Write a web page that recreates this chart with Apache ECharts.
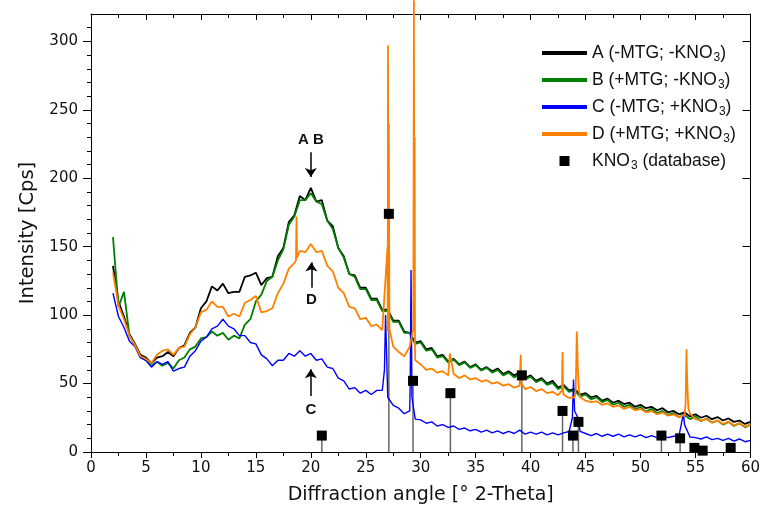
<!DOCTYPE html>
<html>
<head>
<meta charset="utf-8">
<script src="https://cdn.jsdelivr.net/npm/echarts@6/dist/echarts.min.js"></script>
<style>html,body{margin:0;padding:0;background:#fff;}#c{width:763px;height:517px;}</style>
</head>
<body>
<div id="c"></div>
<script>
// sampling grid of the patterns: 2.0 .. 60.0 deg, step 0.5
const X_START = 2, X_STEP = 0.5;

const nameA = 'A (-MTG; -KNO3)';
const nameB = 'B (+MTG; -KNO3)';
const nameC = 'C (-MTG; +KNO3)';
const nameD = 'D (+MTG; +KNO3)';
const nameK = 'KNO3 (database)';

const valuesA = [136,110,99,86,79,71,69,65,69,70,73,70,76,78,87,91,105,110,121,118,123,116,117,117,128,129,131,122,127,128,143,149,168,173,187,184,193,183,184,169,165,149,143,130,129,120,120,112,112,104,104,96,96,88,87,80,81,75,76,70,71,66,68,64,66,62,64,60,62,59,61,57,59,56,58,54,56,52,54,50,52,47,49,45,46,42,43,40,41,37.5,39,36,37.5,35,36,33,34.5,32,33,30.5,32,29,30,27.5,29,26,27.5,25,26.5,24,25.5,23,24.5,22,23,20.5,22];
const valuesB = [157,106,117,85,78,69,67,63,66,63,65,61,67,69,75,77,83,84,88,85,87,82,85,83,93,97,110,115,125,128,140,148,166,172,184,184,189,183,181,169,163,149,142,130,128,119,119,111,111,103,103,95,95,87,87,79,80,74,75,69,70,65.5,67.5,63.5,65.5,61.5,63.5,59.5,61.5,58,60,56,58,54.5,57,53,55,51,53,49,50.5,46,48,44,45,40.5,42,38.5,40,36.5,38,34.5,36,33,34.5,31,33,29.5,31.5,28.5,30,27,28.5,25.5,27,24,26,22.5,24.5,21.5,23,20,22,19,21,18,20];
const valuesC = [116,99,91,81,77,69,67,62,66,64,66,59,61,62,70,74,81,84,90,92,97,92,90,85,85,80,79,71,68,63,67,67,72,70,74,70,72,67,68,62,61,54,52,46,47,43,45,42,45,45,40,34,32,28,30,24,23.5,21,22,19,20,18,19,16.5,17.5,15.5,16.5,14.5,16,14,15.5,13.5,15,13.5,16,13,14.5,13,14.5,12.5,14,12.5,14,15,30,15,13.5,12,13.5,11.5,13,11.5,13,11,12.5,11,12.5,10.5,12,10.5,12,10.5,11.5,12,20,11,10.5,9.5,11,9,10,8.5,10,8,9.5,7.5,8.5];
const valuesD = [131,107,97,85,78,70,68,65,71,74,75,71,76,77,86,91,102,104,110,106,106,99,101,99,109,111,114,102,103,105,116,123,134,138,147,146,152,146,147,136,132,120,116,106,105,97,98,92,93,89,88,77,73,70,77,67,64,60,61,58,59,56,57,54,56,53,54,51.5,52.5,50,51,48.5,49.5,47,48.5,46,47.5,44.5,46,43,44,41.5,42,39.5,40,40,37.5,36.5,37,34.5,35.5,33,34,31.5,33,30.5,31.5,29,30,27.5,29,26.5,27.5,25.5,27,28,24,23,24,21.5,23,20.5,22,19.5,21,18.5,20];

// sharp reflections sitting on the patterns: [angle, intensity]
const spikesC = [[26.7,60],[26.8,100],[26.9,70],[29.05,55],[29.12,133],[29.2,40],[43.8,25],[43.9,53],[44.3,25],[53.9,28]];
const spikesD = [[18.65,140],[18.7,172],[18.75,142],[26.98,150],[27.02,297],[27.06,120],[27.1,240],[27.15,90],[29.33,90],[29.38,330],[29.42,110],[29.45,230],[29.48,75],[32.65,72],[39.1,71],[39.15,50],[42.85,45],[42.9,73],[42.95,44],[44.1,45],[44.2,88],[44.3,60],[44.4,45],[54.1,35],[54.18,75],[54.25,50],[54.35,32]];

// KNO3 database reflections
const kno3Angles = [21.0,27.1,29.3,32.7,39.2,42.9,43.85,44.35,51.9,53.6,54.9,55.65,58.2];
const kno3Intens = [12,174,52,43,56,30,12,22,12,10,3,1,3];

const xTicks = {min:0, max:60, interval:5};
const yMajor = [0,50,100,150,200,250,300];
const yMinor = [10,20,30,40,60,70,80,90,110,120,130,140,160,170,180,190,210,220,230,240,260,270,280,290,310];

// annotations: label, text position, arrow start, arrow end
const notes = [
  {label:'A B', text:[20,228], from:[20,219], to:[20,201]},
  {label:'D', text:[20.05,111], from:[20.05,120], to:[20.05,138.5]},
  {label:'C', text:[20,30.5], from:[20,41], to:[20,60.5]}
];

function pts(vals, spikes) {
  const p = vals.map((v,i)=>[+(X_START + X_STEP*i).toFixed(2), v]);
  return p.concat(spikes || []).sort((a,b)=>a[0]-b[0]);
}
const kno3 = kno3Angles.map((a,i)=>[a, kno3Intens[i]]);

const FONT = 'Liberation Sans, Arial, sans-serif';
const AXFONT = 'DejaVu Sans, sans-serif';
const LINE_ICON = 'path://M0,0 M45,14 M0,5h45v4h-45z';
const SQ_ICON = 'path://M0,0 M45,14 M17.5,2h10v10h-10z';

function lineSeries(name, data, color, extra) {
  return Object.assign({
    name, type:'line', data, showSymbol:false, symbol:'none',
    lineStyle:{color, width:1.8}, itemStyle:{color}, color,
    xAxisIndex:0, yAxisIndex:0, animation:false
  }, extra||{});
}

const chart = echarts.init(document.getElementById('c'));
chart.setOption({
  animation:false,
  textStyle:{fontFamily:FONT},
  grid:{left:91, right:12, top:14, bottom:65},
  legend:{
    orient:'vertical', left:537, top:39,
    itemWidth:45, itemHeight:14, itemGap:7,
    data:[
      {name:nameA, icon:LINE_ICON},{name:nameB, icon:LINE_ICON},
      {name:nameC, icon:LINE_ICON},{name:nameD, icon:LINE_ICON},
      {name:nameK, icon:SQ_ICON}
    ],
    formatter:(n)=>'{n|' + n.replace('KNO3','KNO}{s|3}{n|') + '}',
    textStyle:{
      fontFamily:FONT, color:'#111',
      rich:{
        n:{fontSize:17.5, fontFamily:FONT, color:'#111'},
        s:{fontSize:12, fontFamily:FONT, color:'#111', padding:[10,0,0,1]}
      }
    }
  },
  xAxis:[
    {type:'value', position:'bottom', min:xTicks.min, max:xTicks.max, interval:xTicks.interval,
     name:'Diffraction angle [° 2-Theta]', nameLocation:'middle', nameGap:34,
     nameTextStyle:{fontSize:19, color:'#111', fontFamily:AXFONT},
     axisLine:{show:true, onZero:false, lineStyle:{color:'#000', width:1}},
     axisTick:{show:true, inside:false, length:6, lineStyle:{color:'#000'}},
     minorTick:{show:true, splitNumber:2, length:4, lineStyle:{color:'#000'}},
     axisLabel:{fontSize:15, color:'#111', margin:9, fontFamily:AXFONT},
     splitLine:{show:false}},
    {type:'value', position:'top', min:xTicks.min, max:xTicks.max, interval:xTicks.interval,
     axisLine:{show:true, onZero:false, lineStyle:{color:'#000', width:1}},
     axisTick:{show:true, inside:true, length:6, lineStyle:{color:'#000'}},
     minorTick:{show:true, splitNumber:2, length:4, lineStyle:{color:'#000'}},
     axisLabel:{show:false}, splitLine:{show:false}}
  ],
  yAxis:[
    {type:'value', position:'left', min:0, max:320,
     name:'Intensity [Cps]', nameLocation:'middle', nameGap:53,
     nameTextStyle:{fontSize:19.5, color:'#111', fontFamily:AXFONT},
     axisLine:{show:true, onZero:false, lineStyle:{color:'#000', width:1}},
     axisTick:{show:true, inside:false, length:8, customValues:yMajor, lineStyle:{color:'#000'}},
     axisLabel:{fontSize:15, color:'#111', margin:13, customValues:yMajor, fontFamily:AXFONT},
     splitLine:{show:false}},
    {type:'value', position:'left', min:0, max:320,
     axisLine:{show:false},
     axisTick:{show:true, inside:false, length:4, customValues:yMinor, lineStyle:{color:'#000'}},
     axisLabel:{show:false}, splitLine:{show:false}},
    {type:'value', position:'right', min:0, max:320,
     axisLine:{show:true, onZero:false, lineStyle:{color:'#000', width:1}},
     axisTick:{show:true, inside:true, length:8, customValues:yMajor, lineStyle:{color:'#000'}},
     axisLabel:{show:false}, splitLine:{show:false}},
    {type:'value', position:'right', min:0, max:320,
     axisLine:{show:false},
     axisTick:{show:true, inside:true, length:4, customValues:yMinor, lineStyle:{color:'#000'}},
     axisLabel:{show:false}, splitLine:{show:false}}
  ],
  series:[
    {name:'sticks', type:'bar', data:kno3, barWidth:1.5, itemStyle:{color:'#666'}, xAxisIndex:0, yAxisIndex:0, z:1, silent:true},
    lineSeries(nameA, pts(valuesA), '#000000', {
      markLine:{silent:true, symbol:['none','arrow'], symbolSize:9, label:{show:false},
        lineStyle:{color:'#000', width:1.5, type:'solid'},
        data: notes.map(n=>[{coord:n.from},{coord:n.to}])},
      markPoint:{silent:true, symbol:'rect', symbolSize:1, itemStyle:{color:'rgba(0,0,0,0)'},
        label:{show:true, position:'inside', formatter:(p)=>p.name, fontSize:15, fontWeight:'bold', color:'#111', fontFamily:FONT},
        data: notes.map(n=>({name:n.label, coord:n.text}))}
    }),
    lineSeries(nameB, pts(valuesB), '#008000'),
    lineSeries(nameC, pts(valuesC, spikesC), '#0000ff', {lineStyle:{color:'#0000ff', width:1.4}}),
    lineSeries(nameD, pts(valuesD, spikesD), '#ff8000', {clip:false}),
    {name:nameK, type:'scatter', data:kno3, symbol:'rect', symbolSize:10, itemStyle:{color:'#000', opacity:1}, xAxisIndex:0, yAxisIndex:0, z:5}
  ]
});
</script>
</body>
</html>
